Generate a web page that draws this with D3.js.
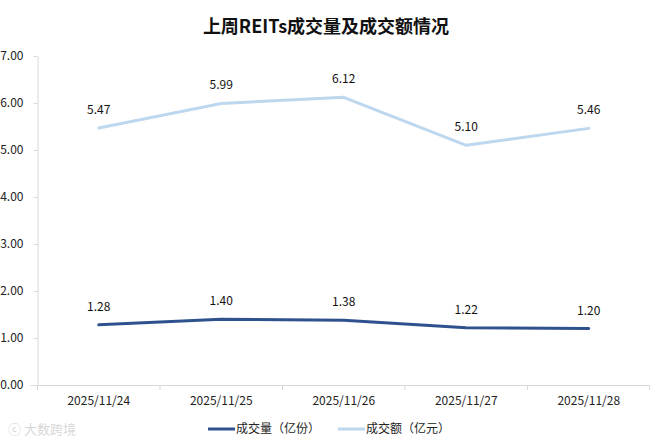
<!DOCTYPE html>
<html><head><meta charset="utf-8">
<script src="https://cdn.jsdelivr.net/npm/d3@7/dist/d3.min.js"></script>
<style>body{margin:0;background:#fff}svg{display:block}</style>
</head><body>
<svg id="c" width="650" height="441"></svg>
<script>
const categories = ["2025/11/24","2025/11/25","2025/11/26","2025/11/27","2025/11/28"];
const volume = [1.28, 1.40, 1.38, 1.22, 1.20];
const amount = [5.47, 5.99, 6.12, 5.10, 5.46];
const yTicks = [0,1,2,3,4,5,6,7];
const seriesNames = ["成交量（亿份）","成交额（亿元）"];
const title = "上周REITs成交量及成交额情况";

(function(){
const svg = d3.select("#c");
const font = "'Noto Sans CJK SC','Noto Sans',sans-serif";
const mLeft = 37.5, mRight = 650, mTop = 56, mBottom = 385;
const x = d3.scaleBand().domain(categories).range([mLeft, mRight]);
const y = d3.scaleLinear().domain([0,7]).range([mBottom, mTop]);

svg.append("text").attr("x", 326).attr("y", 33).attr("text-anchor","middle")
  .attr("font-family", font).attr("font-weight","bold").attr("font-size", 18).attr("fill","#111").text(title);

// y axis
const ya = svg.append("g").attr("transform", `translate(${mLeft},0)`)
  .call(d3.axisLeft(y).tickValues(yTicks).tickFormat(d3.format(".2f")).tickSize(4).tickSizeOuter(0));
ya.select(".domain").attr("stroke","#d9d9d9");
ya.selectAll(".tick line").attr("stroke","#d9d9d9");
ya.selectAll(".tick text").attr("x",-14).attr("font-family",font).attr("font-size",12).attr("fill","#222");

// x axis
const xa = svg.append("g").attr("transform", `translate(0,${mBottom})`)
  .call(d3.axisBottom(x).tickSize(0).tickSizeOuter(0));
xa.select(".domain").attr("stroke","#d9d9d9").attr("d", `M${mLeft-7},0.5H${mRight}`);
xa.selectAll(".tick text").attr("dy","1.45em").attr("font-family",font).attr("font-size",12).attr("fill","#222");
svg.append("g").selectAll("line").data(categories).join("line")
  .attr("x1", d=>x(d)).attr("x2", d=>x(d)).attr("y1", mBottom).attr("y2", mBottom+5)
  .attr("stroke","#d9d9d9");
svg.append("line").attr("x1",mRight-0.5).attr("x2",mRight-0.5).attr("y1",mBottom).attr("y2",mBottom+5).attr("stroke","#d9d9d9");

const cx = d => x(d) + x.bandwidth()/2;
const series = [
  {name: seriesNames[0], vals: volume, color:"#2f528f"},
  {name: seriesNames[1], vals: amount, color:"#bdd7ee"}
];
const line = d3.line().x((d,i)=>cx(categories[i])).y(d=>y(d));
series.forEach(s=>{
  svg.append("path").datum(s.vals).attr("d", line).attr("fill","none")
    .attr("stroke", s.color).attr("stroke-width", 3).attr("stroke-linejoin","round").attr("stroke-linecap","round");
  svg.append("g").selectAll("text").data(s.vals).join("text")
    .attr("x",(d,i)=>cx(categories[i])).attr("y", d=>y(d)-14)
    .attr("text-anchor","middle").attr("font-family",font).attr("font-size",12).attr("fill","#111")
    .text(d=>d.toFixed(2));
});

// legend
const lg = svg.append("g");
const legendX = [208, 338];
series.forEach((s,i)=>{
  lg.append("line").attr("x1",legendX[i]).attr("x2",legendX[i]+27).attr("y1",429).attr("y2",429)
    .attr("stroke",s.color).attr("stroke-width",3);
  lg.append("text").attr("x",legendX[i]+28).attr("y",433).attr("font-family",font).attr("font-size",12)
    .attr("fill","#222").text(s.name);
});

// watermark
svg.append("text").attr("x",8).attr("y",434).attr("font-family",font).attr("font-size",13)
  .attr("fill","#d8d8d8").text("ⓒ 大数跨境");
})();
</script>
</body></html>
